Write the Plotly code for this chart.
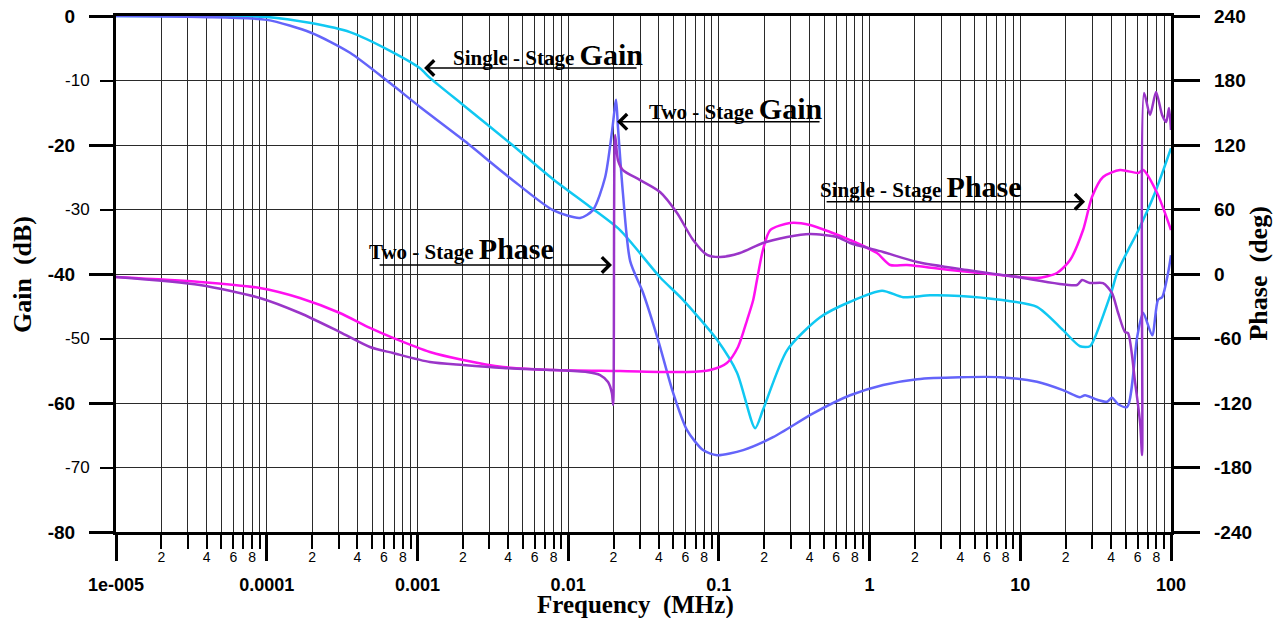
import plotly.graph_objects as go
import numpy as np

# ---------------- data ----------------
# Single-stage gain (dB) vs frequency (MHz)
sg_freq = [1e-5, 3.6e-5, 1e-4, 1.97e-4, 3.57e-4, 6.58e-4, 1.04e-3, 1.21e-3, 2.01e-3, 4.11e-3,
           7.94e-3, 0.0140, 0.0221, 0.0407, 0.0578, 0.0973, 0.132, 0.174, 0.196, 0.284,
           0.470, 0.743, 1.21, 1.67, 2.52, 3.99, 7.35, 12.9, 19.2, 24.9,
           29.0, 31.3, 40.6, 43.9, 51.9, 59.6, 78.3, 100]
sg_gain = [0, -0.02, -0.15, -1.1, -2.5, -5.4, -8.1, -9.6, -13.8, -19.7,
           -25.3, -29.6, -33.2, -40.5, -44.0, -50.2, -55.3, -63.9, -61.1, -51.8,
           -46.7, -44.3, -42.6, -43.6, -43.3, -43.4, -44.0, -45.1, -48.7, -51.2,
           -51.2, -49.8, -42.5, -39.8, -36.3, -33.6, -27.4, -20.5]

# Two-stage gain (dB)
tg_freq = [1e-5, 3.6e-5, 1e-4, 1.97e-4, 3.57e-4, 6.58e-4, 1.04e-3, 2.01e-3, 4.11e-3, 7.94e-3,
           0.0120, 0.0146, 0.0176, 0.0195, 0.0208, 0.0214, 0.0231, 0.0258, 0.0314, 0.0395,
           0.0497, 0.0615, 0.0785, 0.0973, 0.145, 0.229, 0.422, 0.743, 1.23, 2.07,
           3.99, 7.35, 12.9, 19.2, 24.9, 26.9, 32.4, 37.7, 40.6, 44.6,
           51.2, 59.6, 65.3, 75.0, 82.0, 87.3, 95.7, 100]
tg_gain = [0, -0.15, -0.6, -2.6, -5.7, -10.4, -14.1, -19.2, -25.1, -30.1,
           -31.3, -30.1, -25.0, -18.1, -13.0, -17.2, -27.5, -38.0, -42.9, -50.2,
           -58.4, -64.2, -67.3, -68.1, -67.3, -65.3, -61.6, -58.8, -57.2, -56.3,
           -56.0, -56.0, -56.7, -58.0, -59.1, -58.8, -59.5, -59.8, -59.2, -60.2,
           -60.6, -49.8, -46.0, -49.5, -44.0, -43.6, -39.8, -37.1]

# Single-stage phase (deg)
sp_freq = [1e-5, 3.6e-5, 9.0e-5, 1.66e-4, 3.06e-4, 4.84e-4, 6.89e-4, 1.21e-3, 2.01e-3, 3.70e-3,
           7.94e-3, 0.0221, 0.0615, 0.0875, 0.113, 0.134, 0.154, 0.169, 0.179, 0.196,
           0.219, 0.296, 0.403, 0.547, 0.743, 1.12, 1.37, 1.77, 3.42, 7.35,
           12.9, 17.5, 21.4, 26.1, 29.9, 35.4, 45.9, 60.5, 65.3, 80.9, 100]
sp_phase = [-2.8, -7.4, -13.0, -22.3, -36.3, -50.2, -59.5, -72.6, -80.0, -86.5,
            -89.3, -90.2, -91.2, -89.3, -82.8, -67.9, -42.8, -24.2, -5.6, 22.3,
            40.9, 47.4, 45.6, 39.1, 31.6, 19.5, 8.4, 8.4, 3.7, -0.9,
            -3.7, 0.9, 13.0, 40.9, 71.6, 90.2, 96.7, 94.0, 96.7, 75.3, 40.9]

# Two-stage phase (deg)
tp_freq = [1e-5, 3.6e-5, 9.0e-5, 1.66e-4, 3.06e-4, 4.84e-4, 6.89e-4, 1.21e-3, 2.01e-3, 3.70e-3,
           7.94e-3, 0.0133, 0.0163, 0.0184, 0.0195, 0.0199, 0.0205, 0.0214, 0.0231, 0.0300,
           0.0407, 0.0528, 0.0675, 0.0836, 0.102, 0.138, 0.196, 0.284, 0.403, 0.608,
           0.743, 1.23, 2.07, 4.44, 9.53, 23.8, 25.7, 29.0, 35.4, 40.6,
           44.6, 49.5, 51.9, 57.8, 62.4, 64.3, 66.3, 72.6, 79.6, 87.3,
           92.9, 97.0, 100]
tp_phase = [-2.8, -10.2, -22.3, -36.3, -54.0, -67.9, -73.5, -81.9, -84.7, -87.4,
            -89.3, -91.2, -94.0, -100.5, -110.7, -121.9, 129.3, 106.0, 96.7, 87.4,
            76.3, 56.7, 31.6, 17.7, 15.8, 19.5, 28.8, 34.4, 37.2, 34.4,
            28.8, 20.5, 11.2, 3.7, -2.8, -10.2, -5.6, -8.4, -8.4, -17.7,
            -36.3, -54.0, -55.0, -101.0, -138.6, -168.4, 168.4, 147.9, 169.3, 147.9,
            141.4, 154.4, 134.0]

# ticks
decades = [1e-5, 1e-4, 1e-3, 1e-2, 0.1, 1, 10, 100]
decade_labels = ["1e-005", "0.0001", "0.001", "0.01", "0.1", "1", "10", "100"]
minor_mults = [2, 3, 4, 5, 6, 7, 8, 9]
minor_labels = {2: "2", 4: "4", 6: "6", 8: "8"}
gain_major = [0, -20, -40, -60, -80]
gain_minor = [-10, -30, -50, -70]
phase_ticks = [-240, -180, -120, -60, 0, 60, 120, 180, 240]

# ---------------- figure ----------------
CYAN = "#10C8F2"
BLUE = "#6464FA"
MAGENTA = "#FF10F0"
PURPLE = "#9A35C8"

def line(color):
    return dict(color=color, width=2.5, shape="spline", smoothing=0.7)

fig = go.Figure()
fig.add_trace(go.Scatter(x=sg_freq, y=sg_gain, mode="lines", line=line(CYAN),
                         name="Single-Stage Gain", xaxis="x", yaxis="y"))
fig.add_trace(go.Scatter(x=tg_freq, y=tg_gain, mode="lines", line=line(BLUE),
                         name="Two-Stage Gain", xaxis="x", yaxis="y"))
fig.add_trace(go.Scatter(x=sp_freq, y=sp_phase, mode="lines", line=line(MAGENTA),
                         name="Single-Stage Phase", xaxis="x", yaxis="y2"))
fig.add_trace(go.Scatter(x=tp_freq, y=tp_phase, mode="lines", line=line(PURPLE),
                         name="Two-Stage Phase", xaxis="x", yaxis="y2"))
# invisible helpers so the overlay axes are drawn
fig.add_trace(go.Scatter(x=[decades[0], decades[-1]], y=[gain_major[-1], gain_major[0]], mode="lines",
                         opacity=0, hoverinfo="skip", xaxis="x2", yaxis="y"))
fig.add_trace(go.Scatter(x=[decades[0], decades[-1]], y=[gain_major[-1], gain_major[0]], mode="lines",
                         opacity=0, hoverinfo="skip", xaxis="x", yaxis="y3"))

x_tickvals, x_ticktext = [], []
for d in decades:
    x_tickvals.append(d)
    x_ticktext.append("")
    if d < decades[-1]:
        for m in minor_mults:
            x_tickvals.append(d * m)
            x_ticktext.append(minor_labels.get(m, ""))

y_tickvals = sorted(gain_major + gain_minor)
y_ticktext = ["" if v in gain_major else str(v) for v in y_tickvals]

xr = [np.log10(decades[0]), np.log10(decades[-1])]
GRID = "#2a2a2a"

# the page body adds an 8px offset, so the figure is sized to fit the window
fig.update_layout(
    width=1270, height=610,
    margin=dict(l=108, r=107, t=8, b=86, autoexpand=False),
    paper_bgcolor="white", plot_bgcolor="white",
    showlegend=False,
    font=dict(family="Liberation Sans, Arial, sans-serif", color="black"),
    xaxis=dict(type="log", range=xr, tickvals=x_tickvals, ticktext=x_ticktext,
               ticks="outside", ticklen=14, tickwidth=2, tickcolor="black",
               tickfont=dict(size=14), showgrid=True, gridcolor=GRID, gridwidth=1,
               showline=True, linecolor="black", linewidth=3, mirror=True, zeroline=False,
               automargin=False, ticklabelstandoff=-4),
    xaxis2=dict(type="log", range=xr, overlaying="x", anchor="y", side="bottom",
                tickvals=decades, ticktext=["<b>%s</b>" % t for t in decade_labels],
                ticks="outside", ticklen=28, tickwidth=3, tickcolor="black",
                tickfont=dict(size=18), showgrid=False, showline=False, zeroline=False,
                automargin=False, ticklabelstandoff=8, ticklabeloverflow="allow"),
    yaxis=dict(range=[gain_major[-1], gain_major[0]], tickvals=y_tickvals, ticktext=y_ticktext,
               ticks="outside", ticklen=13, tickwidth=2, tickcolor="black",
               tickfont=dict(size=17), showgrid=True, gridcolor=GRID, gridwidth=1,
               showline=True, linecolor="black", linewidth=3, mirror=True, zeroline=False,
               automargin=False, ticklabelstandoff=7),
    yaxis3=dict(range=[gain_major[-1], gain_major[0]], overlaying="y", anchor="x", side="left",
                tickvals=gain_major, ticktext=["<b>%d</b>" % v for v in gain_major],
                ticks="outside", ticklen=26, tickwidth=3, tickcolor="black",
                tickfont=dict(size=19), showgrid=False, showline=False, zeroline=False,
                automargin=False, ticklabelstandoff=10, ticklabeloverflow="allow"),
    yaxis2=dict(range=[phase_ticks[0], phase_ticks[-1]], overlaying="y", anchor="x", side="right",
                tickvals=phase_ticks, showticklabels=False,
                ticks="outside", ticklen=26, tickwidth=3, tickcolor="black",
                showgrid=False, showline=True, linecolor="black",
                linewidth=3, zeroline=False, automargin=False),
)

# right-axis tick labels, placed beside the long ticks
for v in phase_ticks:
    fig.add_annotation(text="<b>%d</b>" % v, xref="paper", yref="y2", x=1.0389, y=v,
                       xanchor="left", yanchor="middle", showarrow=False,
                       font=dict(family="Liberation Sans, Arial, sans-serif", size=19, color="black"))

SERIF = "Liberation Serif, Times New Roman, serif"

# axis titles
fig.add_annotation(text="<b>Gain&nbsp; (dB)</b>", xref="paper", yref="paper", x=-0.0891, y=0.50,
                   textangle=-90, showarrow=False, font=dict(family=SERIF, size=26),
                   xanchor="center", yanchor="middle")
fig.add_annotation(text="<b>Phase&nbsp; (deg)</b>", xref="paper", yref="paper", x=1.082, y=0.50,
                   textangle=-90, showarrow=False, font=dict(family=SERIF, size=26),
                   xanchor="center", yanchor="middle")
fig.add_annotation(text="<b>Frequency&nbsp; (MHz)</b>", xref="paper", yref="paper", x=0.492, y=-0.142,
                   showarrow=False, font=dict(family=SERIF, size=25),
                   xanchor="center", yanchor="middle")

# curve labels
labels = [
    ("Single - Stage ", "Gain", -2.777, -5.9),
    ("Two - Stage ", "Gain", -1.476, -14.3),
    ("Two - Stage ", "Phase", -3.334, -36.0),
    ("Single - Stage ", "Phase", -0.342, -26.5),
]
for small, big, lx, ly in labels:
    fig.add_annotation(text="<b>%s<span style='font-size:30px'>%s</span></b>" % (small, big),
                       xref="x", yref="y", x=lx, y=ly, showarrow=False,
                       font=dict(family=SERIF, size=21, color="black"),
                       xanchor="left", yanchor="middle")

# arrows: (tip_x, tip_y, tail_x, tail_y) in log10(MHz), dB
arrows = [
    (-2.956, -8.06, -1.536, -8.06),
    (-1.676, -16.4, -0.322, -16.4),
    (-1.709, -38.6, -3.261, -38.6),
    (1.430, -28.8, -0.295, -28.8),
]
for tx, ty, sx, sy in arrows:
    fig.add_annotation(text="", xref="x", yref="y", x=tx, y=ty, axref="x", ayref="y",
                       ax=sx, ay=sy, showarrow=True, arrowhead=4, arrowsize=2.0,
                       arrowwidth=1.5, arrowcolor="black", standoff=0)

fig.write_html("out.html")
